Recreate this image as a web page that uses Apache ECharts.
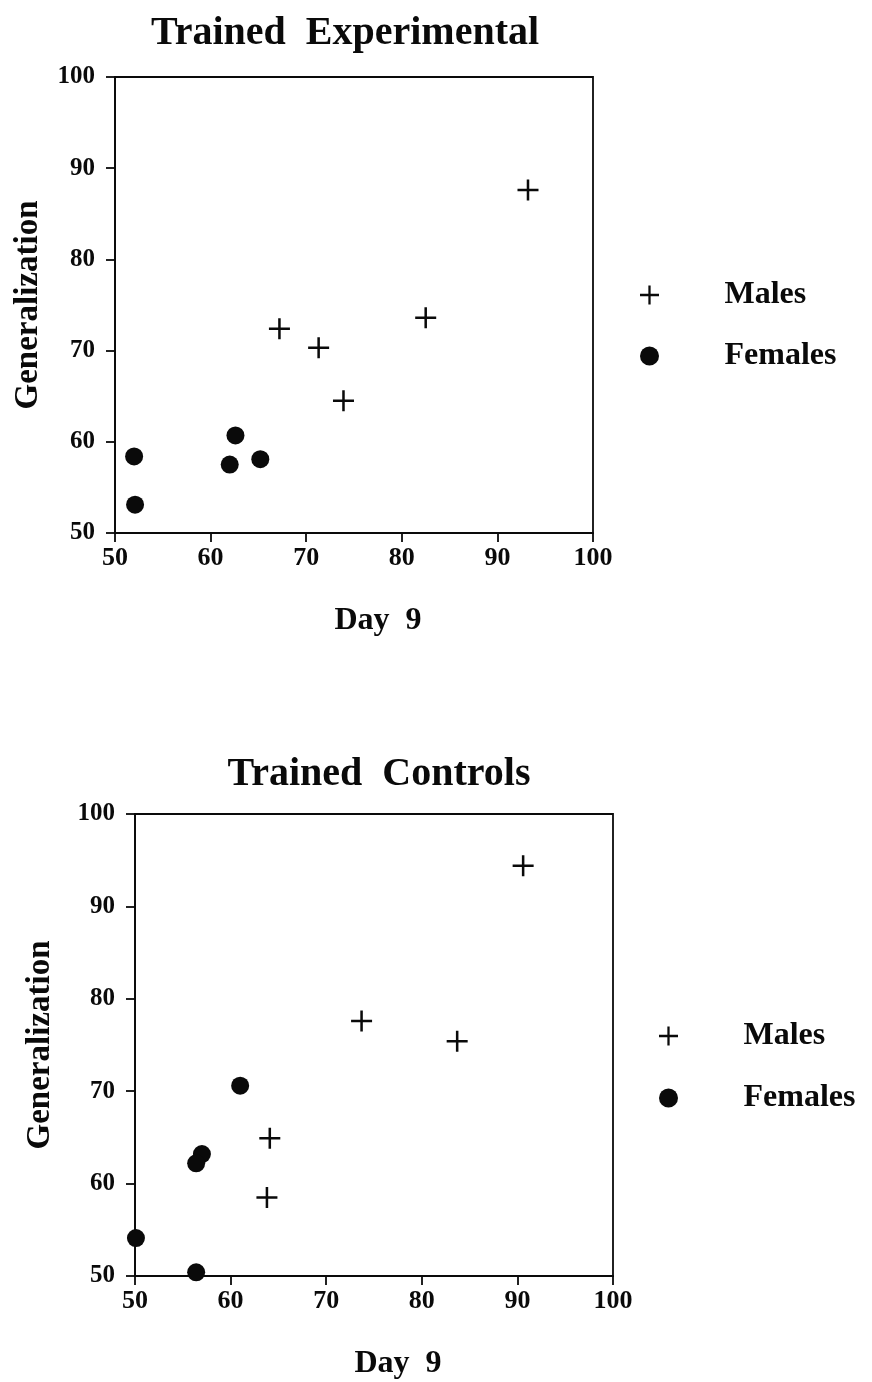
<!DOCTYPE html>
<html>
<head>
<meta charset="utf-8">
<script src="https://cdn.jsdelivr.net/npm/echarts@6/dist/echarts.min.js"></script>
<style>
  html, body { margin: 0; padding: 0; background: #fff; }
  #chart { width: 872px; height: 1382px; }
</style>
</head>
<body>
<div id="chart"></div>
<script>
// Generalization score vs. Day 9 score, [day9, generalization]
const expMales   = [[93.2, 87.6], [67.2, 72.4], [71.3, 70.3], [82.5, 73.6], [73.9, 64.5]];
const expFemales = [[52.0, 58.4], [52.1, 53.1], [62.6, 60.7], [62.0, 57.5], [65.2, 58.1]];
const ctlMales   = [[90.6, 94.4], [73.7, 77.6], [83.7, 75.4], [64.1, 64.9], [63.8, 58.5]];
const ctlFemales = [[61.0, 70.6], [57.0, 63.2], [56.4, 62.2], [50.1, 54.1], [56.4, 50.4]];

const panelTitles = ['Trained  Experimental', 'Trained  Controls'];
const xName = 'Day  9';
const yName = 'Generalization';
const groupNames = ['Males', 'Females'];
const axisMin = 50, axisMax = 100, axisStep = 10;

const INK = '#0a0a0a';
const SERIF = '"Liberation Serif", "Times New Roman", serif';
// plus sign drawn as a filled cross so the bar thickness scales with the symbol
const PLUS = 'path://M8.8,0h2.4v8.8h8.8v2.4h-8.8v8.8h-2.4v-8.8h-8.8v-2.4h8.8z';

const grids = [
  { left: 115, top: 77, width: 478, height: 456 },
  { left: 135, top: 814, width: 478, height: 462 }
];

function xAxisFor(i) {
  return {
    type: 'value', gridIndex: i, min: axisMin, max: axisMax, interval: axisStep,
    name: xName, nameLocation: 'middle', nameGap: 72,
    nameTextStyle: { fontFamily: SERIF, fontWeight: 'bold', fontSize: 32, color: INK, padding: [0, 0, 0, 48] },
    axisLine: { lineStyle: { color: INK, width: 1.8 } },
    axisTick: { inside: false, length: 9, lineStyle: { color: INK, width: 1.8 } },
    axisLabel: { margin: 12, fontFamily: SERIF, fontWeight: 'bold', fontSize: 26, color: INK },
    splitLine: { show: false }
  };
}
function yAxisFor(i) {
  return {
    type: 'value', gridIndex: i, min: axisMin, max: axisMax, interval: axisStep,
    name: yName, nameLocation: 'middle', nameGap: i === 0 ? 70 : 78,
    nameTextStyle: { fontFamily: SERIF, fontWeight: 'bold', fontSize: 33, color: INK },
    axisLine: { lineStyle: { color: INK, width: 1.8 } },
    axisTick: { inside: false, length: 9, lineStyle: { color: INK, width: 1.8 } },
    axisLabel: { margin: 20, fontFamily: SERIF, fontWeight: 'bold', fontSize: 25, color: INK },
    splitLine: { show: false }
  };
}
function maleSeries(i, data) {
  return {
    name: groupNames[0], type: 'scatter', xAxisIndex: i, yAxisIndex: i, data: data,
    symbol: PLUS, symbolSize: 21, itemStyle: { color: INK, opacity: 1 }, clip: false
  };
}
function femaleSeries(i, data) {
  return {
    name: groupNames[1], type: 'scatter', xAxisIndex: i, yAxisIndex: i, data: data,
    symbol: 'circle', symbolSize: 18, itemStyle: { color: INK, opacity: 1 }, clip: false
  };
}
function legendFor(left, top, gap) {
  return {
    orient: 'vertical', left: left, top: top, itemGap: gap,
    itemWidth: 20, itemHeight: 19, selectedMode: false,
    data: [{ name: groupNames[0], icon: PLUS }, { name: groupNames[1], icon: 'circle' }],
    itemStyle: { opacity: 1 },
    textStyle: { fontFamily: SERIF, fontWeight: 'bold', fontSize: 32, color: INK, padding: [0, 0, 0, 60] }
  };
}

const chart = echarts.init(document.getElementById('chart'), null, { renderer: 'canvas' });
chart.setOption({
  animation: false,
  backgroundColor: '#fff',
  title: [
    { text: panelTitles[0], left: 340, top: 9, textAlign: 'center',
      textStyle: { fontFamily: SERIF, fontWeight: 'bold', fontSize: 40, color: INK } },
    { text: panelTitles[1], left: 374, top: 750, textAlign: 'center',
      textStyle: { fontFamily: SERIF, fontWeight: 'bold', fontSize: 40, color: INK } }
  ],
  grid: grids.map(g => Object.assign({ show: true, borderColor: INK, borderWidth: 1.8, backgroundColor: 'transparent' }, g)),
  xAxis: [xAxisFor(0), xAxisFor(1)],
  yAxis: [yAxisFor(0), yAxisFor(1)],
  legend: [legendFor(635, 274, 29), legendFor(654, 1015, 30)],
  series: [
    maleSeries(0, expMales), femaleSeries(0, expFemales),
    maleSeries(1, ctlMales), femaleSeries(1, ctlFemales)
  ]
});
</script>
</body>
</html>
